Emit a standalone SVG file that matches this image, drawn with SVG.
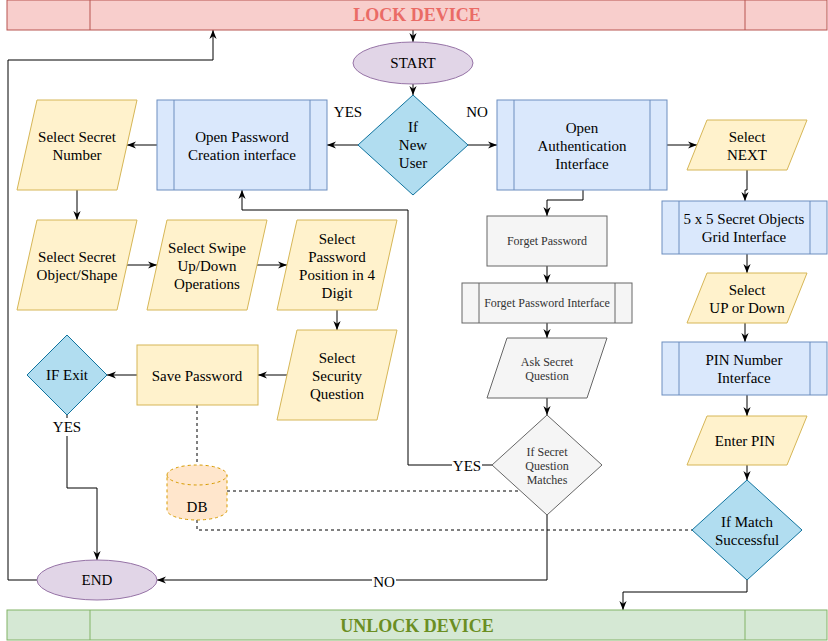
<svg xmlns="http://www.w3.org/2000/svg" width="828" height="641" viewBox="0 0 828 641">
<defs>
<style>
text{font-family:"Liberation Serif","Times New Roman",serif;font-size:15px;fill:#000;text-anchor:middle;dominant-baseline:central}
.io{fill:#fff2cc;stroke:#d6b656;stroke-width:1}
.proc{fill:#dae8fc;stroke:#6c8ebf;stroke-width:1}
.dec{fill:#b1ddf0;stroke:#10739e;stroke-width:1}
.gray{fill:#f5f5f5;stroke:#666666;stroke-width:1}
.gt{fill:#333333;font-size:12px}
.term{fill:#e1d5e7;stroke:#9673a6;stroke-width:1}
.edge{fill:none;stroke:#000;stroke-width:1}
.arr{marker-end:url(#ah)}
.dash{fill:none;stroke:#000;stroke-width:1;stroke-dasharray:3 3}
.lbl{fill:#fff}
</style>
<marker id="ah" viewBox="0 0 10 10" refX="10" refY="5" markerWidth="9" markerHeight="9" markerUnits="userSpaceOnUse" orient="auto">
<path d="M0,1 L10,5 L0,9 L3,5 Z" fill="#000"/>
</marker>
</defs>
<rect width="828" height="641" fill="#ffffff"/>

<g id="connectors">
<path class="edge arr" d="M413,30 V42"/>
<path class="edge arr" d="M413,84 V95"/>
<path class="edge arr" d="M358,145 H327"/>
<path class="edge arr" d="M468,145 H497"/>
<path class="edge arr" d="M157,145 H127"/>
<path class="edge arr" d="M77,190 V220"/>
<path class="edge arr" d="M127,265 H157"/>
<path class="edge arr" d="M257,265 H287"/>
<path class="edge arr" d="M337,310 V330"/>
<path class="edge arr" d="M287,375 H258"/>
<path class="edge arr" d="M137,375 H107"/>
<path class="edge arr" d="M67,415 V488 H97 V560"/>
<path class="edge arr" d="M37,580 H8 V60 H213 V30"/>
<path class="edge arr" d="M583,190 V200 H547 V216"/>
<path class="edge arr" d="M547,266 V283"/>
<path class="edge arr" d="M547,323 V338"/>
<path class="edge arr" d="M547,398 V415"/>
<path class="edge arr" d="M492,465 H408 V210 H242 V190"/>
<path class="edge arr" d="M547,515 V580 H157"/>
<path class="edge arr" d="M667,145 H697"/>
<path class="edge arr" d="M747,170 V190 H745 V201"/>
<path class="edge arr" d="M747,254 V273"/>
<path class="edge arr" d="M745,323 V342"/>
<path class="edge arr" d="M747,395 V416"/>
<path class="edge arr" d="M747,465 V480"/>
<path class="edge arr" d="M747,580 V592 H623 V610"/>
<path class="dash" d="M197,405 V465"/>
<path class="dash" d="M227,491 H520"/>
<path class="dash" d="M197,520 V530 H692"/>
<rect class="lbl" x="52" y="418" width="30" height="18"/>
<text x="67" y="427">YES</text>
<rect class="lbl" x="452" y="457" width="30" height="18"/>
<text x="467" y="466">YES</text>
<rect class="lbl" x="372" y="573" width="24" height="18"/>
<text x="384" y="582">NO</text>
<text x="348" y="112">YES</text>
<text x="477" y="112">NO</text>
</g>

<g id="lock-device">
<rect x="7" y="0" width="820" height="30" fill="#f8cecc" stroke="#b85450"/>
<line x1="90" y1="0" x2="90" y2="30" stroke="#b85450"/>
<line x1="745" y1="0" x2="745" y2="30" stroke="#b85450"/>
<text x="417" y="15" style="font-size:18px;font-weight:bold;fill:#ea6b66">LOCK DEVICE</text>
</g>

<g id="start">
<ellipse class="term" cx="413" cy="63" rx="60" ry="21"/>
<text x="413" y="63">START</text>
</g>

<g id="if-new-user">
<polygon class="dec" points="413,95 468,145 413,195 358,145"/>
<text x="413" y="127">If</text>
<text x="413" y="145">New</text>
<text x="413" y="163">User</text>
</g>

<g id="open-password-creation">
<rect class="proc" x="157" y="100" width="170" height="90"/>
<line x1="174" y1="100" x2="174" y2="190" stroke="#6c8ebf"/>
<line x1="310" y1="100" x2="310" y2="190" stroke="#6c8ebf"/>
<text x="242" y="137">Open Password</text>
<text x="242" y="155">Creation interface</text>
</g>

<g id="select-secret-number">
<polygon class="io" points="37,100 137,100 117,190 17,190"/>
<text x="77" y="137">Select Secret</text>
<text x="77" y="155">Number</text>
</g>

<g id="select-secret-object">
<polygon class="io" points="37,220 137,220 117,310 17,310"/>
<text x="77" y="257">Select Secret</text>
<text x="77" y="275">Object/Shape</text>
</g>

<g id="select-swipe">
<polygon class="io" points="167,220 267,220 247,310 147,310"/>
<text x="207" y="248">Select Swipe</text>
<text x="207" y="266">Up/Down</text>
<text x="207" y="284">Operations</text>
</g>

<g id="select-password-position">
<polygon class="io" points="297,220 397,220 377,310 277,310"/>
<text x="337" y="239">Select</text>
<text x="337" y="257">Password</text>
<text x="337" y="275">Position in 4</text>
<text x="337" y="293">Digit</text>
</g>

<g id="select-security-question">
<polygon class="io" points="297,330 397,330 377,420 277,420"/>
<text x="337" y="358">Select</text>
<text x="337" y="376">Security</text>
<text x="337" y="394">Question</text>
</g>

<g id="save-password">
<rect class="io" x="137" y="345" width="121" height="60"/>
<text x="197" y="376">Save Password</text>
</g>

<g id="if-exit">
<polygon class="dec" points="67,335 107,375 67,415 27,375"/>
<text x="67" y="375">IF Exit</text>
</g>

<g id="db">
<path d="M167,475 A30,10 0 0 1 227,475 V510 A30,10 0 0 1 167,510 Z" fill="#ffe6cc" stroke="#d79b00" stroke-dasharray="3 3"/>
<path d="M167,475 A30,10 0 0 0 227,475" fill="none" stroke="#d79b00" stroke-dasharray="3 3"/>
<text x="197" y="507">DB</text>
</g>

<g id="end">
<ellipse class="term" cx="97" cy="580" rx="60" ry="20"/>
<text x="97" y="580">END</text>
</g>

<g id="open-authentication">
<rect class="proc" x="497" y="100" width="170" height="90"/>
<line x1="514" y1="100" x2="514" y2="190" stroke="#6c8ebf"/>
<line x1="650" y1="100" x2="650" y2="190" stroke="#6c8ebf"/>
<text x="582" y="128">Open</text>
<text x="582" y="146">Authentication</text>
<text x="582" y="164">Interface</text>
</g>

<g id="forget-password">
<rect class="gray" x="487" y="216" width="120" height="50"/>
<text class="gt" x="547" y="241">Forget Password</text>
</g>

<g id="forget-password-interface">
<rect class="gray" x="462" y="283" width="170" height="40"/>
<line x1="479" y1="283" x2="479" y2="323" stroke="#666666"/>
<line x1="615" y1="283" x2="615" y2="323" stroke="#666666"/>
<text class="gt" x="547" y="303">Forget Password Interface</text>
</g>

<g id="ask-secret-question">
<polygon class="gray" points="507,338 607,338 587,398 487,398"/>
<text class="gt" x="547" y="362">Ask Secret</text>
<text class="gt" x="547" y="376">Question</text>
</g>

<g id="if-secret-question-matches">
<polygon class="gray" points="547,415 602,465 547,515 492,465"/>
<text class="gt" x="547" y="452">If Secret</text>
<text class="gt" x="547" y="466">Question</text>
<text class="gt" x="547" y="480">Matches</text>
</g>

<g id="select-next">
<polygon class="io" points="707,120 807,120 787,170 687,170"/>
<text x="747" y="137">Select</text>
<text x="747" y="155">NEXT</text>
</g>

<g id="grid-interface">
<rect class="proc" x="662" y="201" width="165" height="53"/>
<line x1="679" y1="201" x2="679" y2="254" stroke="#6c8ebf"/>
<line x1="810" y1="201" x2="810" y2="254" stroke="#6c8ebf"/>
<text x="744" y="219">5 x 5 Secret Objects</text>
<text x="744" y="237">Grid Interface</text>
</g>

<g id="select-up-down">
<polygon class="io" points="707,273 807,273 787,323 687,323"/>
<text x="747" y="290">Select</text>
<text x="747" y="308">UP or Down</text>
</g>

<g id="pin-interface">
<rect class="proc" x="662" y="342" width="165" height="53"/>
<line x1="679" y1="342" x2="679" y2="395" stroke="#6c8ebf"/>
<line x1="810" y1="342" x2="810" y2="395" stroke="#6c8ebf"/>
<text x="744" y="360">PIN Number</text>
<text x="744" y="378">Interface</text>
</g>

<g id="enter-pin">
<polygon class="io" points="707,416 807,416 787,465 687,465"/>
<text x="745" y="441">Enter PIN</text>
</g>

<g id="if-match-successful">
<polygon class="dec" points="747,480 802,530 747,580 692,530"/>
<text x="747" y="522">If Match</text>
<text x="747" y="540">Successful</text>
</g>

<g id="unlock-device">
<rect x="7" y="610" width="820" height="30" fill="#d5e8d4" stroke="#82b366"/>
<line x1="90" y1="610" x2="90" y2="640" stroke="#82b366"/>
<line x1="745" y1="610" x2="745" y2="640" stroke="#82b366"/>
<text x="417" y="626" style="font-size:18px;font-weight:bold;fill:#6b8e23">UNLOCK DEVICE</text>
</g>
</svg>
